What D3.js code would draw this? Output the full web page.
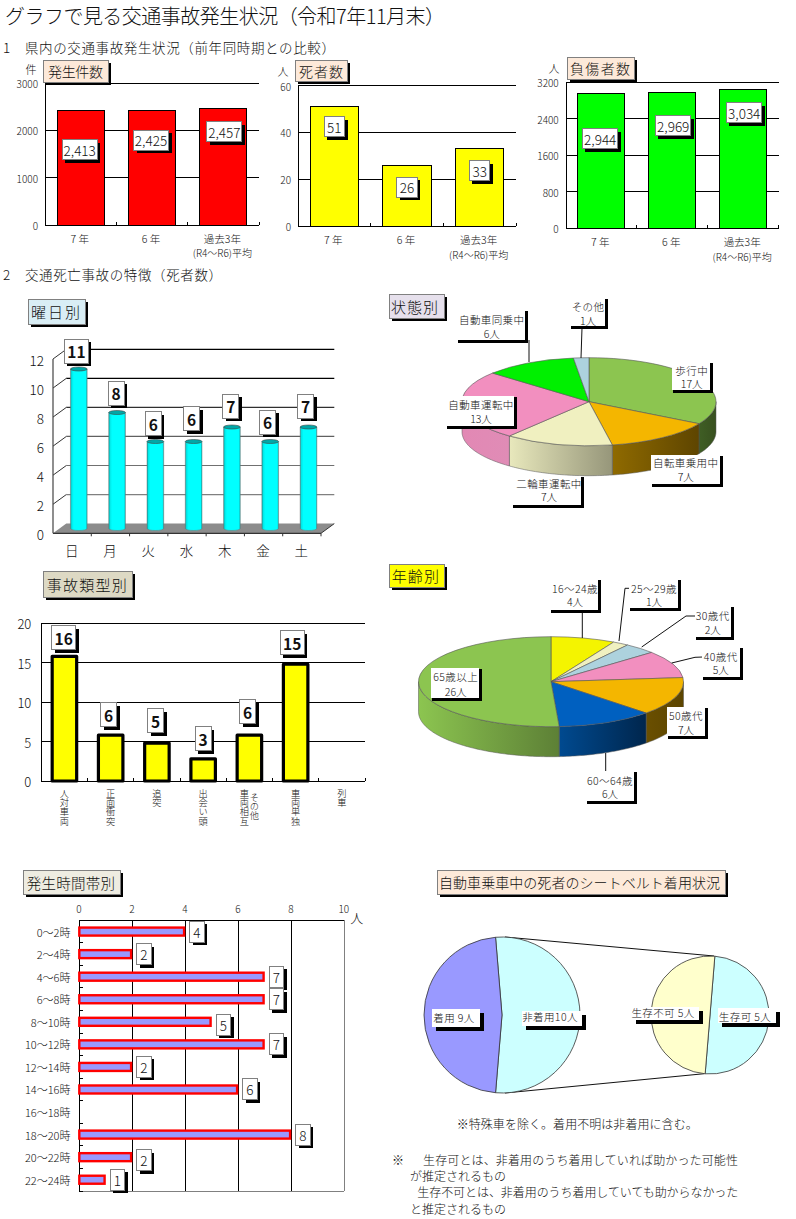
<!DOCTYPE html>
<html lang="ja"><head><meta charset="utf-8">
<script src="https://cdn.jsdelivr.net/npm/d3@7"></script>
<style>
html,body{margin:0;padding:0;background:#fff}
svg{display:block}
text{font-family:"Noto Sans CJK JP","Noto Sans",sans-serif;font-weight:300;fill:#111;dominant-baseline:central}
.crisp{shape-rendering:crispEdges}
</style></head><body>
<script>
// ---------- data ----------
const pageTitle = "グラフで見る交通事故発生状況（令和7年11月末）";
const section1 = "1　県内の交通事故発生状況（前年同時期との比較）";
const section2 = "2　交通死亡事故の特徴（死者数）";
const yearCats = ["7 年", "6 年", "過去3年\n(R4～R6)平均"];
const accidents = [2413, 2425, 2457];
const deaths = [51, 26, 33];
const injured = [2944, 2969, 3034];
const accidentTicks = [0, 1000, 2000, 3000];
const deathTicks = [0, 20, 40, 60];
const injuredTicks = [0, 800, 1600, 2400, 3200];
const weekdays = ["日", "月", "火", "水", "木", "金", "土"];
const weekdayValues = [11, 8, 6, 6, 7, 6, 7];
const weekdayTicks = [0, 2, 4, 6, 8, 10, 12];
const stateNames = ["歩行中", "自転車乗用中", "二輪車運転中", "自動車運転中", "自動車同乗中", "その他"];
const stateValues = [17, 7, 7, 13, 6, 1];
const typeCats = ["人対車両", "正面衝突", "追突", "出会い頭", "車両相互", "車両単独", "列車"];
const typeValues = [16, 6, 5, 3, 6, 15, 0];
const typeTicks = [0, 5, 10, 15, 20];
const ageNames = ["16～24歳", "25～29歳", "30歳代", "40歳代", "50歳代", "60～64歳", "65歳以上"];
const ageValues = [4, 1, 2, 5, 7, 6, 26];
const hourCats = ["0～2時", "2～4時", "4～6時", "6～8時", "8～10時", "10～12時", "12～14時", "14～16時", "16～18時", "18～20時", "20～22時", "22～24時"];
const hourValues = [4, 2, 7, 7, 5, 7, 2, 6, 0, 8, 2, 1];
const hourTicks = [0, 2, 4, 6, 8, 10];
const beltNames = ["非着用", "着用"];
const beltValues = [10, 9];
const surviveNames = ["生存可", "生存不可"];
const surviveValues = [5, 5];
const noteLines = ["※特殊車を除く。着用不明は非着用に含む。", "※", "生存可とは、非着用のうち着用していれば助かった可能性", "が推定されるもの", "生存不可とは、非着用のうち着用していても助からなかった", "と推定されるもの"];

// ---------- helpers ----------
const svg = d3.select("body").append("svg").attr("width", 796).attr("height", 1219);
let gradId = 0;
function txt(g, x, y, s, size, o = {}) {
  const t = g.append("text").attr("x", x).attr("y", y).attr("font-size", size).text(s)
    .attr("text-anchor", o.anchor || "start");
  if (o.weight) t.style("font-weight", o.weight);
  if (o.len) t.attr("textLength", o.len).attr("lengthAdjust", "spacing");
  if (o.ls) t.attr("letter-spacing", o.ls);
  return t;
}
function panel(x0, y0, x1, y1, fill, s, tx0, tx1, size = 14) {
  const g = svg.append("g");
  g.append("rect").attr("class", "crisp").attr("x", x0 + 3).attr("y", y0 + 3).attr("width", x1 - x0).attr("height", y1 - y0).attr("fill", "#000");
  g.append("rect").attr("class", "crisp").attr("x", x0).attr("y", y0).attr("width", x1 - x0).attr("height", y1 - y0).attr("fill", fill).attr("stroke", "#808080");
  txt(g, tx0, (y0 + y1) / 2, s, size, { len: tx1 - tx0 });
}
function valueBox(g, cx, cy, w, h, s, size, weight, shadow = 3) {
  g.append("rect").attr("class", "crisp").attr("x", cx - w / 2 + shadow).attr("y", cy - h / 2 + shadow).attr("width", w).attr("height", h).attr("fill", "#000");
  g.append("rect").attr("class", "crisp").attr("x", cx - w / 2).attr("y", cy - h / 2).attr("width", w).attr("height", h).attr("fill", "#fff").attr("stroke", "#808080");
  txt(g, cx, cy, s, size, { anchor: "middle", weight });
}
function callout(g, x0, y0, x1, y1, tx, l1, l2, y1t, y2t) {
  g.append("rect").attr("class", "crisp").attr("x", x0).attr("y", y0).attr("width", x1 - x0).attr("height", y1 - y0 + 1).attr("fill", "#000");
  g.append("rect").attr("class", "crisp").attr("x", x0 - 1).attr("y", y0 - 1).attr("width", x1 - x0 - 2).attr("height", y1 - y0 - 1).attr("fill", "#fff");
  txt(g, tx, y1t - 0.5, l1, 10.5, { anchor: "middle", ls: 0.4 });
  txt(g, tx, y2t - 1, l2, 10.5, { anchor: "middle" });
}
function leader(g, pts) {
  g.append("path").attr("d", d3.line()(pts)).attr("fill", "none").attr("stroke", "#111").attr("stroke-width", 1);
}
function gradient(colors) {
  const id = "g" + (gradId++);
  const lg = svg.append("defs").append("linearGradient").attr("id", id);
  lg.append("stop").attr("offset", "0%").attr("stop-color", colors[0]);
  lg.append("stop").attr("offset", "100%").attr("stop-color", colors[1]);
  return `url(#${id})`;
}

// ---------- headings ----------
txt(svg, 5, 15, pageTitle, 20, { len: 440 });
txt(svg, 3, 47, section1, 13.5, { len: 332 });
txt(svg, 3, 274, section2, 13.5, { len: 219 });

// ---------- three year-comparison bar charts ----------
function yearChart(o) {
  const g = svg.append("g");
  const x = d3.scaleBand().domain(yearCats).range([o.x0, o.x1]).paddingInner(0.338).paddingOuter(0.169);
  const b = d3.scaleBand().domain(yearCats).range([o.x0, o.x1]);
  const y = d3.scaleLinear().domain([0, o.ticks[o.ticks.length - 1]]).range([o.y0, o.y1]);
  g.selectAll("line.grid").data(o.ticks.slice(1)).join("line").attr("class", "crisp")
    .attr("x1", o.x0).attr("x2", o.x1).attr("y1", y).attr("y2", y).attr("stroke", "#000");
  const ax = g.append("g").attr("transform", `translate(${o.x0},0)`)
    .call(d3.axisLeft(y).tickValues(o.ticks).tickSize(0).tickPadding(7).tickFormat(d3.format("d")));
  ax.select(".domain").attr("stroke", "#000").attr("class", "domain crisp");
  ax.selectAll("text").attr("font-size", 10).attr("dy", 0);
  g.selectAll("rect.bar").data(o.values).join("rect").attr("class", "crisp")
    .attr("x", (d, i) => x(yearCats[i])).attr("width", x.bandwidth())
    .attr("y", d => y(d)).attr("height", d => o.y0 - y(d))
    .attr("fill", o.fill).attr("stroke", "#000");
  g.append("line").attr("class", "crisp").attr("x1", o.x0).attr("x2", o.x1).attr("y1", o.y0).attr("y2", o.y0).attr("stroke", "#000");
  d3.range(1, 4).forEach(i => {
    const tx = o.x0 + i * b.step();
    g.append("line").attr("class", "crisp").attr("x1", tx).attr("x2", tx).attr("y1", o.y0 - 3).attr("y2", o.y0).attr("stroke", "#000");
  });
  yearCats.forEach((c, i) => {
    const cx = x(c) + x.bandwidth() / 2 - 1;
    c.split("\n").forEach((line, k) =>
      txt(g, cx, o.labelY + k * 14.5, line, k ? 10 : 10.5, { anchor: "middle" }));
    const v = o.values[i];
    valueBox(g, cx + 1 + o.boxDx[i], y(v) + o.boxDy[i], o.boxW, 20, o.fmt(v), 13.5);
  });
  txt(g, o.unitX, o.unitY, o.unit, 11, { anchor: "middle" });
}
yearChart({ x0: 45, x1: 259, y0: 225.3, y1: 83, values: accidents, ticks: accidentTicks, fill: "#ff0000", labelY: 238.3, boxW: 35, boxDx: [-1, -1, 1], boxDy: [39, 30, 23], fmt: d3.format(","), unit: "件", unitX: 31, unitY: 69 });
yearChart({ x0: 298, x1: 516, y0: 226, y1: 85.5, values: deaths, ticks: deathTicks, fill: "#ffff00", labelY: 239.5, boxW: 20.5, boxDx: [0, 0, 0], boxDy: [20, 22, 22], fmt: d3.format("d"), unit: "人", unitX: 283, unitY: 70.5 });
yearChart({ x0: 565.7, x1: 778.7, y0: 228.3, y1: 82.3, values: injured, ticks: injuredTicks, fill: "#00ff00", labelY: 241.7, boxW: 35.5, boxDx: [-1, 1, 1], boxDy: [45, 33, 23], fmt: d3.format(","), unit: "人", unitX: 554, unitY: 68 });
panel(43, 60, 108, 82, "#fde9d9", "発生件数", 48, 103, 14);
panel(295, 60, 347, 81, "#fde9d9", "死者数", 299, 343, 14);
panel(567, 57, 634, 79, "#fde9d9", "負傷者数", 570, 630, 14);

// ---------- weekday 3D cylinder chart ----------
(function () {
  const g = svg.append("g");
  const dx = 13.3, dy = 9.7, x0 = 53, x1 = 321, yBottom = 533.3;
  const y = d3.scaleLinear().domain([0, 12]).range([yBottom, 359]);
  const x = d3.scaleBand().domain(weekdays).range([x0, x1]);
  g.append("polygon").attr("fill", "#8c8c8c")
    .attr("points", [[x0, yBottom], [x0 + dx, yBottom - dy], [x1 + dx, yBottom - dy], [x1, yBottom]].join(" "));
  const gridColor = d3.scaleOrdinal().domain(weekdayTicks).range(["#000", "#808080", "#707070", "#606060", "#303030", "#000", "#000"]);
  weekdayTicks.slice(1).forEach(t => {
    g.append("line").attr("x1", x0 + dx).attr("x2", x1 + dx).attr("y1", y(t) - dy).attr("y2", y(t) - dy)
      .attr("stroke", gridColor(t)).attr("stroke-width", 1.2);
    g.append("line").attr("x1", x0).attr("x2", x0 + dx).attr("y1", y(t)).attr("y2", y(t) - dy).attr("stroke", "#333");
  });
  g.append("line").attr("x1", x0).attr("x2", x0).attr("y1", y(12)).attr("y2", yBottom).attr("stroke", "#444").attr("stroke-width", 1.2);
  g.append("line").attr("x1", x0).attr("x2", x1).attr("y1", yBottom).attr("y2", yBottom).attr("stroke", "#333").attr("stroke-width", 1.2);
  weekdays.forEach((d, i) => {
    const tx = x0 + (i + 1) * x.step();
    g.append("line").attr("x1", tx).attr("x2", tx).attr("y1", yBottom).attr("y2", yBottom + 3).attr("stroke", "#333");
  });
  g.append("line").attr("x1", x1).attr("x2", x1 + dx).attr("y1", yBottom).attr("y2", yBottom - dy).attr("stroke", "#333");
  const ax = g.append("g").attr("transform", `translate(${x0},0)`)
    .call(d3.axisLeft(y).tickValues(weekdayTicks).tickSize(0).tickPadding(9));
  ax.select(".domain").remove();
  ax.selectAll("text").attr("font-size", 13.5).attr("dy", 0);
  const cyl = gradient(["#00a0a0", "#00ffff"]);
  const lg = d3.select(cyl.slice(4, -1));
  lg.selectAll("stop").remove();
  [[0, "#00a0a0"], [0.08, "#00e8e8"], [0.2, "#00ffff"], [0.92, "#00ffff"], [1, "#00b0b0"]].forEach(s =>
    lg.append("stop").attr("offset", s[0] * 100 + "%").attr("stop-color", s[1]));
  const yBase = y.copy().range([yBottom - 4.8, yBottom - 4.8 - 174]);
  const boxDx = [-2.4, -1, -2, -2, -1.2, -2.7, -3];
  const boxDy = [-18, -19.5, -18, -23, -20.7, -19.5, -21];
  weekdays.forEach((d, i) => {
    const v = weekdayValues[i], cx = x(d) + x.step() / 2 + dx / 2, w = 16.7, ry = 2, top = yBase(v), bot = yBase(0);
    g.append("path").attr("fill", cyl).attr("stroke", "#777").attr("stroke-width", 0.5)
      .attr("d", `M${cx - w / 2},${top}L${cx - w / 2},${bot}A${w / 2},${ry} 0 0 0 ${cx + w / 2},${bot}L${cx + w / 2},${top}Z`);
    g.append("ellipse").attr("cx", cx).attr("cy", top).attr("rx", w / 2).attr("ry", ry).attr("fill", "#00a8a8").attr("stroke", "#444").attr("stroke-width", 0.6);
    const bw = v >= 10 ? 24 : 16;
    valueBox(g, cx + boxDx[i], top + boxDy[i], bw, 24, String(v), 15.5, 700);
    txt(g, x(d) + x.step() / 2 - 0.5, 550, d, 13.5, { anchor: "middle" });
  });
})();
panel(28, 299, 85, 324, "#d9eef5", "曜日別", 31, 80, 15);

// ---------- 3D pie ----------
function pie3d(g, values, colors, sides, cx, cy, rx, ry, depth) {
  const arcs = d3.pie().sort(null)(values);
  const pt = (a, dz = 0) => [cx + rx * Math.sin(a), cy - ry * Math.cos(a) + dz];
  const lo = Math.PI / 2, hi = 3 * Math.PI / 2;
  arcs.forEach((a, i) => {
    const s = Math.max(a.startAngle, lo), e = Math.min(a.endAngle, hi);
    if (e <= s || !sides[i]) return;
    const as = d3.range(s, e, 0.02).concat([e]);
    const ptsTop = as.map(t => pt(t)), ptsBot = as.map(t => pt(t, depth)).reverse();
    g.append("path").attr("d", d3.line()(ptsTop.concat(ptsBot)) + "Z")
      .attr("fill", gradient(sides[i])).attr("stroke", "#555").attr("stroke-width", 0.5);
  });
  const top = g.append("g").attr("transform", `translate(${cx},${cy}) scale(1,${ry / rx})`);
  top.selectAll("path").data(arcs).join("path")
    .attr("d", d3.arc().innerRadius(0).outerRadius(rx))
    .attr("fill", (d, i) => colors[i]).attr("stroke", "#555").attr("stroke-width", 0.6)
    .attr("vector-effect", "non-scaling-stroke");
}

// state pie
(function () {
  const g = svg.append("g");
  pie3d(g, stateValues, ["#8cc550", "#f4b600", "#f0f0c0", "#f28fbf", "#00f000", "#add2de"],
    [["#3f5e24", "#38501f"], ["#8f6a00", "#5e4500"], ["#e8e8bc", "#96967a"], ["#e288b4", "#e08cb6"], null, null],
    589, 401.7, 127, 44, 30);
  leader(g, [[582, 328], [581, 358]]);
  leader(g, [[529, 340], [529, 362]]);
  const u = v => v + "人";
  callout(g, 673, 363, 713, 392, 691.7, stateNames[0], u(stateValues[0]), 370.7, 384.3);
  callout(g, 651.7, 455.7, 722.7, 485.7, 685.7, stateNames[1], u(stateValues[1]), 463, 477.7);
  callout(g, 513.3, 476.7, 584.3, 506.7, 549, stateNames[2], u(stateValues[2]), 484, 497.7);
  callout(g, 446.7, 396.7, 517.3, 427.7, 481, stateNames[3], u(stateValues[3]), 404.5, 419.5);
  callout(g, 457.7, 311, 528.3, 341.7, 491.7, stateNames[4], u(stateValues[4]), 319.5, 334.5);
  callout(g, 570.7, 299, 608, 328.3, 588, stateNames[5], u(stateValues[5]), 306.7, 321);
})();
panel(389, 294, 444, 318, "#e6e0ec", "状態別", 391, 438, 15);

// ---------- accident type chart ----------
(function () {
  const g = svg.append("g");
  const x = d3.scaleBand().domain(typeCats).range([41.3, 365]);
  const y = d3.scaleLinear().domain([0, 20]).range([781, 623.3]);
  typeTicks.slice(1).forEach(t =>
    g.append("line").attr("class", "crisp").attr("x1", 41.3).attr("x2", 365).attr("y1", y(t)).attr("y2", y(t)).attr("stroke", "#000"));
  const ax = g.append("g").attr("transform", "translate(41.3,0)")
    .call(d3.axisLeft(y).tickValues(typeTicks).tickSize(0).tickPadding(10));
  ax.select(".domain").attr("stroke", "#000").attr("class", "domain crisp");
  ax.selectAll("text").attr("font-size", 13).attr("dy", 0);
  const bw = 24.5;
  const boxDx = [-0.7, -2, -1.3, 0, -1.7, -3.4];
  const boxDy = [-17, -18.7, -21, -18.5, -21.7, -20];
  const vertical = (s, cx, top) => g.append("text").attr("x", cx).attr("y", top).attr("font-size", 9.2)
    .attr("style", "writing-mode:vertical-rl;text-orientation:upright").text(s);
  typeCats.forEach((c, i) => {
    const v = typeValues[i], cx = x(c) + x.step() / 2;
    if (v > 0) {
      g.append("rect").attr("x", cx - bw / 2).attr("y", y(v) + 1.5).attr("width", bw).attr("height", y(0) - y(v) - 1.5)
        .attr("fill", "#ffff00").attr("stroke", "#000").attr("stroke-width", 3.2).attr("stroke-linejoin", "round");
      valueBox(g, cx + boxDx[i], y(v) + boxDy[i], v >= 10 ? 24 : 16, 24, String(v), 15.5, 700);
    }
    vertical(c, cx - (i === 4 ? 5 : 0), 789);
    if (i === 4) vertical("その他", cx + 5, 793);
    g.append("line").attr("class", "crisp").attr("x1", x(c) + x.step()).attr("x2", x(c) + x.step()).attr("y1", 778).attr("y2", 781).attr("stroke", "#000");
  });
  g.append("line").attr("class", "crisp").attr("x1", 41.3).attr("x2", 365).attr("y1", 781).attr("y2", 781).attr("stroke", "#000");
})();
panel(43, 571, 132, 597, "#ddd9c4", "事故類型別", 46.7, 126.7, 15);

// age pie
(function () {
  const g = svg.append("g");
  pie3d(g, ageValues, ["#f4f400", "#f0f0c0", "#add2de", "#f28fbf", "#f4b600", "#0060c0", "#8cc550"],
    [null, null, null, null, ["#6a4f00", "#5c4500"], ["#004a90", "#00264d"], ["#8cc550", "#5d8036"]],
    551, 681.7, 132.5, 45, 30);
  leader(g, [[582.3, 611], [582.3, 638]]);
  leader(g, [[630, 588.3], [625, 588.3], [619, 641]]);
  leader(g, [[695.7, 616], [686, 616], [641.7, 647]]);
  leader(g, [[703, 657], [695, 657.3], [671.7, 663]]);
  leader(g, [[605.7, 753], [605.7, 772]]);
  const u = v => v + "人";
  callout(g, 550.7, 580, 601, 611.7, 575, ageNames[0], u(ageValues[0]), 588.7, 602.3);
  callout(g, 630, 580, 680.7, 610, 654, ageNames[1], u(ageValues[1]), 588.7, 602.3);
  callout(g, 695.7, 607.3, 734.3, 638.7, 712.7, ageNames[2], u(ageValues[2]), 615.7, 630);
  callout(g, 703.3, 648.3, 742.7, 679.3, 720.7, ageNames[3], u(ageValues[3]), 656.7, 670.7);
  callout(g, 668.3, 707.7, 707.7, 737.7, 686, ageNames[4], u(ageValues[4]), 715.7, 730);
  callout(g, 586.7, 772.3, 636.7, 803.3, 610, ageNames[5], u(ageValues[5]), 780.7, 794.3);
  callout(g, 431.7, 669.3, 481.7, 700.3, 455.7, ageNames[6], u(ageValues[6]), 677.3, 692.3);
})();
panel(389, 564, 444, 587, "#ffff00", "年齢別", 391.7, 439, 15);

// ---------- hour chart ----------
(function () {
  const g = svg.append("g");
  const x = d3.scaleLinear().domain([0, 10]).range([79.3, 344.3]);
  const y = d3.scaleBand().domain(hourCats).range([920.3, 1191]);
  hourTicks.slice(1).forEach(t =>
    g.append("line").attr("class", "crisp").attr("x1", x(t)).attr("x2", x(t)).attr("y1", 920.3).attr("y2", 1191)
      .attr("stroke", t === 10 ? "#808080" : "#000"));
  g.append("line").attr("class", "crisp").attr("x1", 79.3).attr("x2", 344.3).attr("y1", 920.3).attr("y2", 920.3).attr("stroke", "#000");
  g.append("line").attr("class", "crisp").attr("x1", 79.3).attr("x2", 344.3).attr("y1", 1191).attr("y2", 1191).attr("stroke", "#808080");
  g.append("line").attr("class", "crisp").attr("x1", 79.3).attr("x2", 79.3).attr("y1", 920.3).attr("y2", 1191).attr("stroke", "#000");
  const top = g.append("g").attr("transform", "translate(-1,908)")
    .call(d3.axisTop(x).tickValues(hourTicks).tickSize(0).tickPadding(0));
  top.select(".domain").remove();
  top.selectAll("text").attr("font-size", 10).attr("dy", 0).attr("y", 0);
  txt(g, 356.7, 917.7, "人", 13, { anchor: "middle" });
  const boxDy = [0, 0, 0, 0, 3, 0, 0, 0, 0, 0, 3, 0];
  hourCats.forEach((c, i) => {
    const v = hourValues[i], cy = y(c) + y.step() / 2;
    txt(g, 70.5, cy, c, 11, { anchor: "end" });
    g.append("line").attr("class", "crisp").attr("x1", 79.3).attr("x2", 83).attr("y1", y(c) + y.step()).attr("y2", y(c) + y.step()).attr("stroke", "#000");
    if (v > 0) {
      g.append("rect").attr("x", x(0)).attr("y", cy - 4).attr("width", x(v) - x(0) - 1.2).attr("height", 8)
        .attr("fill", "#9999ff").attr("stroke", "#ff0000").attr("stroke-width", 2.4);
      valueBox(g, x(v) + 11.5, cy + boxDy[i], 14.5, 21, String(v), 13.5);
    }
  });
})();
panel(23, 870, 120, 894, "#eeece1", "発生時間帯別", 26.7, 115, 14.5);

// ---------- seat belt pie of pie ----------
(function () {
  const g = svg.append("g");
  const rad = d => d * Math.PI / 180;
  leader(g, [[505, 937], [714, 956]]);
  leader(g, [[505, 1093], [704.3, 1073.7]]);
  const a1 = d3.pie().sort(null).startAngle(rad(-4.74)).endAngle(rad(355.26))(beltValues);
  g.append("g").attr("transform", "translate(502,1015)").selectAll("path").data(a1).join("path")
    .attr("d", d3.arc().innerRadius(0).outerRadius(78))
    .attr("fill", (d, i) => ["#ccffff", "#9999ff"][i]).attr("stroke", "#333").attr("stroke-width", 0.8);
  const a2 = d3.pie().sort(null).startAngle(rad(4.7)).endAngle(rad(364.7))(surviveValues);
  g.append("g").attr("transform", "translate(710,1015)").selectAll("path").data(a2).join("path")
    .attr("d", d3.arc().innerRadius(0).outerRadius(59))
    .attr("fill", (d, i) => ["#ccffff", "#ffffcc"][i]).attr("stroke", "#333").attr("stroke-width", 0.8);
  const lab = (x0, y0, x1, y1, tx, ty, s) => {
    g.append("rect").attr("class", "crisp").attr("x", x0 + 4).attr("y", y0 + 4).attr("width", x1 - x0).attr("height", y1 - y0).attr("fill", "#000");
    g.append("rect").attr("class", "crisp").attr("x", x0).attr("y", y0).attr("width", x1 - x0).attr("height", y1 - y0).attr("fill", "#fff");
    txt(g, tx, ty, s, 10.5, { anchor: "middle", ls: 0.4 });
  };
  lab(431.7, 1009.3, 480, 1026.7, 454, 1017.7, beltNames[1] + " " + beltValues[1] + "人");
  lab(521.7, 1010.7, 581.7, 1026, 550, 1016.7, beltNames[0] + beltValues[0] + "人");
  lab(632.3, 1006.7, 699, 1020, 663, 1012.7, surviveNames[1] + " " + surviveValues[1] + "人");
  lab(717.7, 1008.3, 776.3, 1023.3, 745, 1016, surviveNames[0] + " " + surviveValues[0] + "人");
  txt(svg, 456.7, 1123, noteLines[0], 12, { len: 241 });
  txt(svg, 392, 1159, noteLines[1], 12);
  txt(svg, 423, 1159, noteLines[2], 12, { len: 315 });
  txt(svg, 410, 1175, noteLines[3], 12);
  txt(svg, 417.3, 1191.7, noteLines[4], 12, { len: 321 });
  txt(svg, 410, 1208, noteLines[5], 12);
})();
panel(437, 870, 725, 894, "#fdeada", "自動車乗車中の死者のシートベルト着用状況", 439, 720, 14);
</script>
</body></html>
